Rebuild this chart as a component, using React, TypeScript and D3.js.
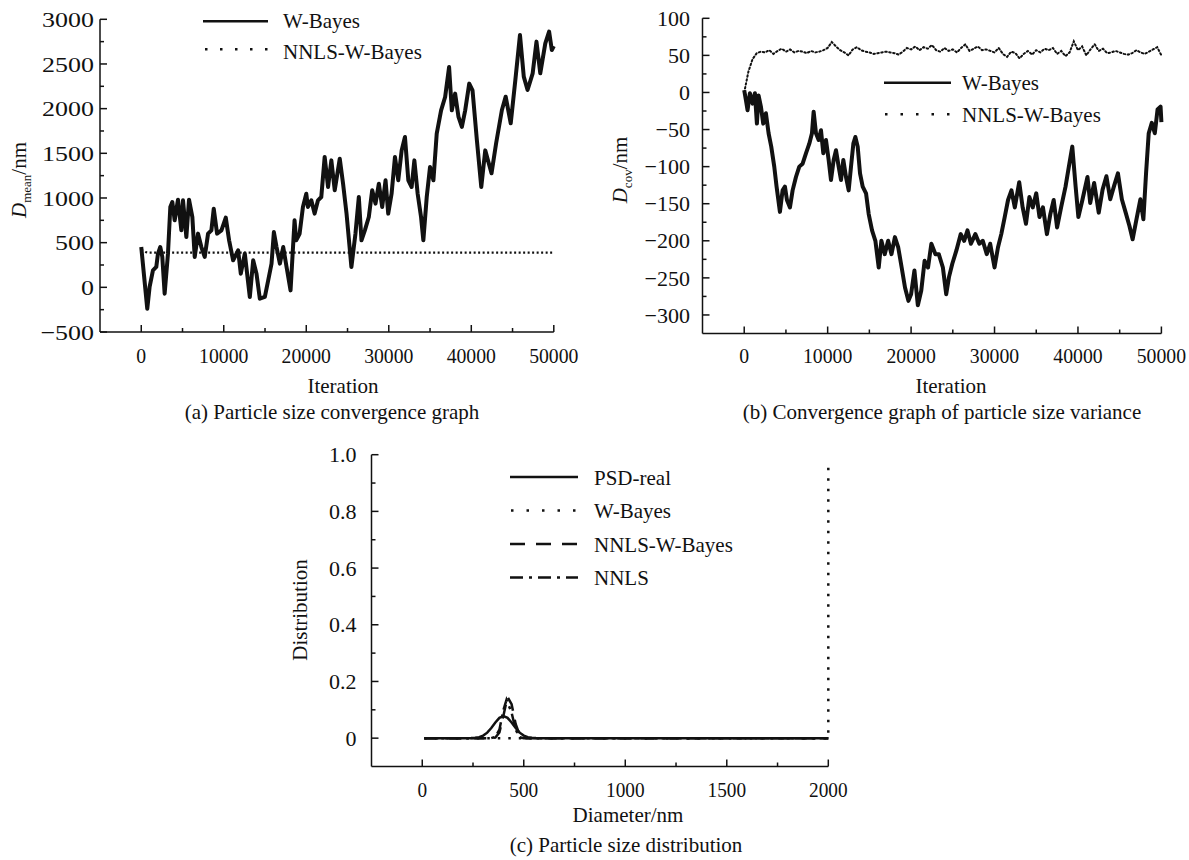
import React from "react";
import * as d3 from "d3";

const FONT = '"Liberation Serif", "Times New Roman", serif';

// (a) mean particle size vs iteration  [iteration, D_mean]
const meanWBayes: [number, number][] = [
  [0, 451], [729, -239], [1012, 4], [1417, 190], [1822, 228], [2024, 377], [2308, 451],
  [2551, 340], [2834, -71], [3239, 377], [3522, 899], [3765, 955], [4049, 750], [4453, 981],
  [4858, 638], [5061, 974], [5466, 563], [5789, 981], [6194, 787], [6478, 340], [6883, 601],
  [7287, 451], [7692, 340], [8097, 601], [8502, 638], [8785, 880], [9190, 601], [9717, 638],
  [10243, 780], [10648, 526], [11134, 302], [11741, 414], [12065, 153], [12551, 377],
  [13158, -108], [13563, 302], [13968, 153], [14372, -127], [14980, -108], [15385, 78],
  [15789, 265], [16073, 619], [16397, 451], [16802, 265], [17206, 451], [17611, 228],
  [18094, -34], [18580, 750], [18780, 526], [19190, 600], [19595, 900], [20000, 1048],
  [20200, 900], [20610, 974], [21010, 825], [21420, 974], [21820, 1011], [22230, 1459],
  [22640, 1123], [23040, 1421], [23450, 1086], [24060, 1440], [24460, 1160], [24880, 825],
  [25470, 228], [25960, 600], [26370, 1011], [26690, 526], [27100, 638], [27580, 787],
  [27990, 1086], [28390, 937], [28800, 1160], [29200, 900], [29610, 1198], [29930, 825],
  [30340, 1048], [30750, 1459], [31150, 1198], [31560, 1533], [31960, 1683], [32370, 1198],
  [32770, 1123], [33100, 1421], [33500, 1048], [33910, 787], [34190, 526], [34600, 1011],
  [35000, 1347], [35410, 1198], [35810, 1720], [36340, 1981], [36830, 2130], [37310, 2466],
  [37640, 1981], [38040, 2168], [38450, 1907], [38860, 1795], [39260, 1981], [39750, 2280],
  [40150, 2205], [40680, 1645], [41210, 1123], [41690, 1533], [42450, 1276], [43010, 1612],
  [43710, 1985], [44170, 2134], [44780, 1836], [45340, 2321], [45900, 2824], [46360, 2358],
  [46820, 2209], [47440, 2395], [47900, 2750], [48360, 2395], [48970, 2731], [49430, 2862],
  [49760, 2656], [50000, 2700],
];
const meanNNLS: [number, number][] = [[0, 420], [500, 395], [1000, 388], [50000, 388]];

// (b) particle size variance vs iteration  [iteration, D_cov]
const covWBayes: [number, number][] = [
  [0, 3], [200, -10], [400, -24], [680, -1], [1000, -15], [1280, -1], [1520, -42], [1720, -4],
  [2000, -19], [2280, -42], [2600, -28], [2920, -55], [3240, -73], [3600, -100], [3880, -127],
  [4280, -161], [4600, -132], [4880, -127], [5120, -145], [5480, -155], [5800, -132],
  [6200, -114], [6600, -100], [7000, -96], [7400, -82], [7800, -69], [8120, -55], [8320, -26],
  [8600, -55], [8920, -64], [9200, -51], [9480, -82], [9800, -64], [10120, -91], [10400, -118],
  [10720, -91], [11000, -78], [11320, -100], [11600, -118], [11880, -91], [12200, -114],
  [12520, -132], [12800, -100], [13080, -69], [13320, -60], [13600, -73], [13880, -109],
  [14200, -127], [14600, -136], [14920, -164], [15320, -186], [15720, -200], [16120, -236],
  [16440, -200], [16840, -218], [17250, -200], [17650, -218], [18060, -195], [18460, -209],
  [18870, -236], [19270, -263], [19680, -281], [20000, -272], [20400, -240], [20810, -287],
  [21220, -267], [21620, -227], [22030, -236], [22430, -204], [22920, -218], [23320, -218],
  [23810, -236], [24210, -272], [24540, -249], [24940, -231], [25430, -213], [25950, -191],
  [26360, -200], [26760, -186], [27170, -204], [27700, -191], [28180, -204], [28590, -200],
  [29070, -218], [29480, -204], [30000, -236], [30410, -209], [30810, -191], [31220, -168],
  [31620, -145], [32030, -132], [32430, -155], [32960, -121], [33370, -155], [33770, -177],
  [34180, -141], [34580, -155], [35000, -136], [35390, -168], [35800, -155], [36280, -191],
  [36690, -164], [37090, -145], [37500, -182], [37980, -155], [38510, -127], [38910, -100],
  [39320, -73], [39720, -127], [40050, -168], [40530, -145], [41140, -114], [41470, -149],
  [41940, -122], [42490, -162], [42950, -131], [43410, -113], [43870, -144], [44330, -126],
  [44790, -109], [45260, -144], [45720, -162], [46170, -180], [46550, -198], [47010, -171],
  [47480, -144], [47840, -171], [48160, -109], [48480, -55], [48850, -41], [49210, -55],
  [49540, -23], [49900, -19], [50000, -40],
];
const covNNLSIter = d3.range(0, 50001, 500);
const covNNLS = [
  0, 28, 45, 53, 55, 54, 57, 52, 56, 59, 55, 58, 54, 56, 55, 53, 56, 54, 55, 57, 60,
  68, 62, 57, 54, 50, 58, 61, 57, 55, 54, 52, 53, 54, 55, 54, 53, 51, 55, 60, 58,
  62, 57, 61, 59, 64, 57, 55, 60, 56, 58, 54, 60, 65, 56, 59, 62, 57, 58, 56, 54,
  60, 52, 48, 55, 53, 46, 52, 56, 51, 57, 54, 59, 57, 60, 52, 56, 49, 54, 69, 57,
  62, 50, 58, 65, 56, 59, 53, 54, 56, 54, 52, 51, 53, 57, 54, 52, 55, 58, 61, 50,
];

// (c) particle size distribution  [diameter, distribution]
const psdReal: [number, number][] = [
  [10, 0], [220, 0], [240, 0.0003], [260, 0.0011], [280, 0.0034], [300, 0.0089], [320, 0.0194],
  [340, 0.0357], [360, 0.0551], [380, 0.0715], [400, 0.078], [420, 0.0715], [440, 0.0551],
  [460, 0.0357], [480, 0.0194], [500, 0.0089], [520, 0.0034], [540, 0.0011], [560, 0.0003],
  [580, 0], [2000, 0],
];
const psdWBayes: [number, number][] = [[10, 0], [2000, 0], [2000, 0.98]];
const psdNNLSWB: [number, number][] = [
  [10, 0], [340, 0], [360, 0.002], [380, 0.02], [400, 0.08], [420, 0.145], [440, 0.12],
  [460, 0.05], [480, 0.01], [500, 0], [2000, 0],
];
const psdNNLS: [number, number][] = [
  [10, 0], [340, 0], [360, 0.005], [380, 0.03], [400, 0.1], [415, 0.135], [440, 0.09],
  [460, 0.03], [480, 0.003], [500, 0], [2000, 0],
];

const ax = d3.scaleLinear().domain([-5000, 50000]).range([100, 553.8]);
const ay = d3.scaleLinear().domain([-500, 3000]).range([332, 19.3]);
const bx = d3.scaleLinear().domain([-5000, 50000]).range([702.5, 1161.4]);
const by = d3.scaleLinear().domain([-325, 100]).range([333.5, 18.3]);
const cx = d3.scaleLinear().domain([-250, 2000]).range([371.5, 828.3]);
const cy = d3.scaleLinear().domain([-0.1, 1.0]).range([766.5, 454.7]);

const minus = (v: number, s: string) => (v < 0 ? "\u2212" + s.replace("-", "") : s);

function Axes(props: any) {
  const { x, y, xMajor, xMinor, yMajor, yMinor, xFmt, yFmt, xl, yl, xLabelY } = props;
  const [x0, x1] = x.range();
  const [y0, y1] = y.range();
  const s = { stroke: "#111", strokeWidth: 1.5 };
  return (
    <g fontFamily={FONT} fill="#111">
      <line x1={x0} x2={x0} y1={y0} y2={y1} {...s} />
      <line x1={x0} x2={x1} y1={y0} y2={y0} {...s} />
      {yMajor.map((v: number) => (
        <g key={"ym" + v}>
          <line x1={x0} x2={x0 + 7} y1={y(v)} y2={y(v)} {...s} />
          <text
            transform={`translate(${x0 - yl.gap},${y(v)}) scale(${yl.sx},1)`}
            dy="0.35em" textAnchor="end" fontSize={yl.size}>
            {minus(v, yFmt(v))}
          </text>
        </g>
      ))}
      {yMinor.map((v: number) => (
        <line key={"yn" + v} x1={x0} x2={x0 + 4} y1={y(v)} y2={y(v)} {...s} />
      ))}
      {xMajor.map((v: number) => (
        <g key={"xm" + v}>
          <line x1={x(v)} x2={x(v)} y1={y0} y2={y0 - 7} {...s} />
          <text
            transform={`translate(${x(v)},${xLabelY}) scale(${xl.sx},1)`}
            textAnchor="middle" fontSize={xl.size}>
            {xFmt(v)}
          </text>
        </g>
      ))}
      {xMinor.map((v: number) => (
        <line key={"xn" + v} x1={x(v)} x2={x(v)} y1={y0} y2={y0 - 4} {...s} />
      ))}
    </g>
  );
}

const path = (x: any, y: any, d: [number, number][]) =>
  d3.line<[number, number]>().x((p) => x(p[0])).y((p) => y(p[1]))(d) || "";

export default function App() {
  const iterMajor = d3.range(0, 50001, 10000);
  const iterMinor = d3.range(5000, 50000, 10000);
  const xLbl = { size: 21, sx: 0.94, gap: 0 };
  const covPts: [number, number][] = covNNLSIter.map((t, i) => [t, covNNLS[i]]);

  return (
    <svg width={1189} height={860} style={{ position: "absolute", left: 0, top: 0, background: "#fff" }}>
      {/* (a) */}
      <Axes x={ax} y={ay} xMajor={iterMajor} xMinor={iterMinor}
        yMajor={d3.range(-500, 3001, 500)} yMinor={d3.range(-250, 3000, 500)}
        xFmt={(v: number) => String(v)} yFmt={(v: number) => String(v)}
        xl={xLbl} yl={{ size: 22, sx: 1.18, gap: 6 }} xLabelY={363} />
      <path d={path(ax, ay, meanNNLS)} fill="none" stroke="#111" strokeWidth={2.2} strokeDasharray="2,2.5" />
      <path d={path(ax, ay, meanWBayes)} fill="none" stroke="#111" strokeWidth={4} strokeLinejoin="round" />
      <g fontFamily={FONT} fontSize={21} fill="#111">
        <line x1={203} x2={268} y1={21.3} y2={21.3} stroke="#111" strokeWidth={2.5} />
        <text x={283} y={28}>W-Bayes</text>
        <line x1={205} x2={268} y1={49.3} y2={49.3} stroke="#111" strokeWidth={2.5} strokeDasharray="2.5,12.5" />
        <text x={283} y={59}>NNLS-W-Bayes</text>
        <text transform="translate(26,180) rotate(-90)" textAnchor="middle">
          <tspan fontStyle="italic">D</tspan>
          <tspan fontSize={13} dy={5}>mean</tspan>
          <tspan dy={-5}>/nm</tspan>
        </text>
        <text x={343} y={393} textAnchor="middle">Iteration</text>
        <text x={332} y={419} textAnchor="middle">(a) Particle size convergence graph</text>
      </g>

      {/* (b) */}
      <Axes x={bx} y={by} xMajor={iterMajor} xMinor={iterMinor}
        yMajor={d3.range(-300, 101, 50)} yMinor={d3.range(-275, 100, 50)}
        xFmt={(v: number) => String(v)} yFmt={(v: number) => String(v)}
        xl={xLbl} yl={{ size: 22, sx: 1, gap: 12.5 }} xLabelY={363} />
      <path d={path(bx, by, covPts)} fill="none" stroke="#111" strokeWidth={2}
        strokeDasharray="1.5,2.5" strokeLinecap="round" />
      <path d={path(bx, by, covWBayes)} fill="none" stroke="#111" strokeWidth={4} strokeLinejoin="round" />
      <g fontFamily={FONT} fontSize={21} fill="#111">
        <line x1={884} x2={951} y1={82.7} y2={82.7} stroke="#111" strokeWidth={2.5} />
        <text x={962} y={90}>W-Bayes</text>
        <line x1={885} x2={951} y1={114.3} y2={114.3} stroke="#111" strokeWidth={2.5} strokeDasharray="2.5,13" />
        <text x={962} y={122}>NNLS-W-Bayes</text>
        <text transform="translate(627,170) rotate(-90)" textAnchor="middle">
          <tspan fontStyle="italic">D</tspan>
          <tspan fontSize={13} dy={5}>cov</tspan>
          <tspan dy={-5}>/nm</tspan>
        </text>
        <text x={951} y={393} textAnchor="middle">Iteration</text>
        <text x={942} y={419} textAnchor="middle">(b) Convergence graph of particle size variance</text>
      </g>

      {/* (c) */}
      <Axes x={cx} y={cy} xMajor={d3.range(0, 2001, 500)} xMinor={d3.range(250, 2000, 500)}
        yMajor={d3.range(0, 1.01, 0.2)} yMinor={d3.range(0.1, 1.0, 0.2)}
        xFmt={(v: number) => String(v)} yFmt={(v: number) => (v === 0 ? "0" : v.toFixed(1))}
        xl={{ size: 21, sx: 0.92, gap: 0 }} yl={{ size: 22, sx: 1, gap: 15 }} xLabelY={797} />
      <path d={path(cx, cy, psdWBayes)} fill="none" stroke="#111" strokeWidth={2.5}
        strokeDasharray="2.5,8" />
      <path d={path(cx, cy, psdNNLS)} fill="none" stroke="#111" strokeWidth={2.5} strokeDasharray="12,5,3,5" />
      <path d={path(cx, cy, psdNNLSWB)} fill="none" stroke="#111" strokeWidth={2.5} strokeDasharray="14,9" />
      <path d={path(cx, cy, psdReal)} fill="none" stroke="#111" strokeWidth={2.5} />
      <g fontFamily={FONT} fontSize={21} fill="#111">
        <line x1={510} x2={578} y1={477} y2={477} stroke="#111" strokeWidth={2.5} />
        <text x={594} y={485}>PSD-real</text>
        <line x1={511} x2={578} y1={510.6} y2={510.6} stroke="#111" strokeWidth={2.5} strokeDasharray="2.5,13" />
        <text x={594} y={518}>W-Bayes</text>
        <line x1={510} x2={578} y1={544} y2={544} stroke="#111" strokeWidth={2.5} strokeDasharray="15,11" />
        <text x={594} y={552}>NNLS-W-Bayes</text>
        <line x1={510} x2={578} y1={577.5} y2={577.5} stroke="#111" strokeWidth={2.5} strokeDasharray="13,6,3,6" />
        <text x={594} y={585}>NNLS</text>
        <text transform="translate(307,610) rotate(-90)" textAnchor="middle">Distribution</text>
        <text x={628} y={822} textAnchor="middle">Diameter/nm</text>
        <text x={626} y={852} textAnchor="middle">(c) Particle size distribution</text>
      </g>
    </svg>
  );
}
